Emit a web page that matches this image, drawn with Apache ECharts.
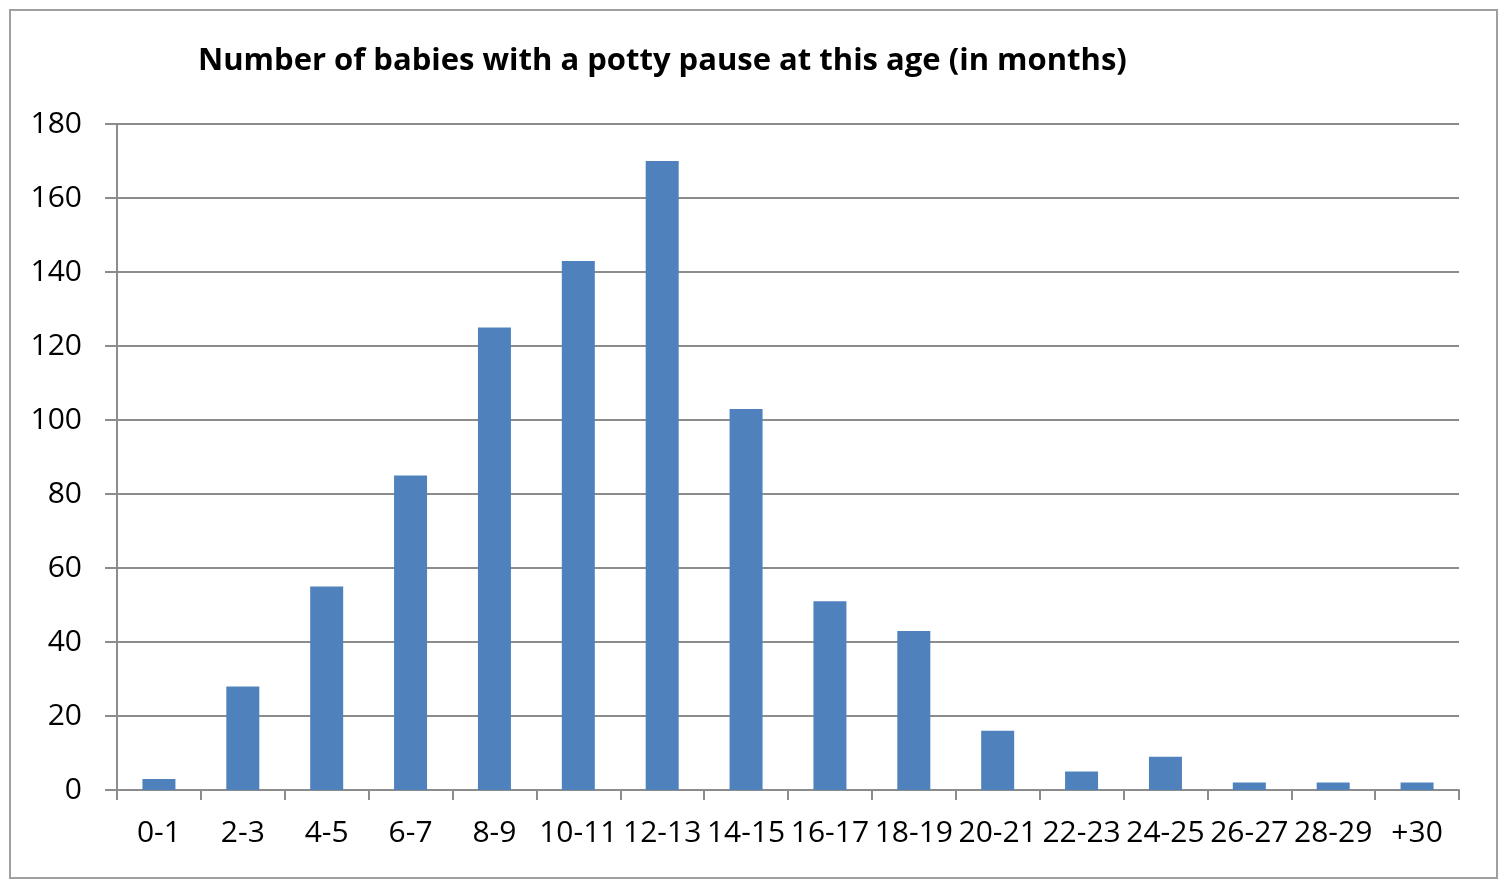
<!DOCTYPE html>
<html><head><meta charset="utf-8">
<script src="https://cdn.jsdelivr.net/npm/echarts@6/dist/echarts.min.js"></script>
<style>html,body{margin:0;padding:0;background:#fff}#c{width:1507px;height:886px}</style>
</head><body><div id="c"></div>
<script>
const categories = ['0-1','2-3','4-5','6-7','8-9','10-11','12-13','14-15','16-17','18-19','20-21','22-23','24-25','26-27','28-29','+30'];
const babies = [3,28,55,85,125,143,170,103,51,43,16,5,9,2,2,2];
const yTicks = {min:0, max:180, interval:20};
const titleText = 'Number of babies with a potty pause at this age (in months)';

const chart = echarts.init(document.getElementById('c'));
const FONT = '"Open Sans", sans-serif';
chart.setOption({
  animation:false,
  backgroundColor:'#fff',
  title:{text:titleText, left:193, top:41,
    textStyle:{fontFamily:FONT, fontWeight:'bold', fontSize:31, color:'#000'}},
  graphic:[{type:'rect', shape:{x:10,y:10,width:1487,height:868},
    style:{fill:'none', stroke:'#a0a0a0', lineWidth:2}, silent:true}],
  grid:{left:117, right:48, top:124, bottom:96, containLabel:false},
  xAxis:{type:'category', data:categories,
    axisLine:{lineStyle:{color:'#8c8c8c', width:2}},
    axisTick:{show:true, length:10, lineStyle:{color:'#8c8c8c', width:2}},
    axisLabel:{fontFamily:FONT, fontSize:30, color:'#000', margin:28, interval:0}},
  yAxis:{type:'value', min:yTicks.min, max:yTicks.max, interval:yTicks.interval,
    axisLine:{show:true, lineStyle:{color:'#8c8c8c', width:2}},
    axisTick:{show:true, length:12, lineStyle:{color:'#8c8c8c', width:2}},
    splitLine:{lineStyle:{color:'#8c8c8c', width:2}},
    axisLabel:{fontFamily:FONT, fontSize:30, color:'#000', margin:35}},
  series:[{type:'bar', data:babies, barWidth:33, itemStyle:{color:'#4F81BD'}}]
});
</script></body></html>
